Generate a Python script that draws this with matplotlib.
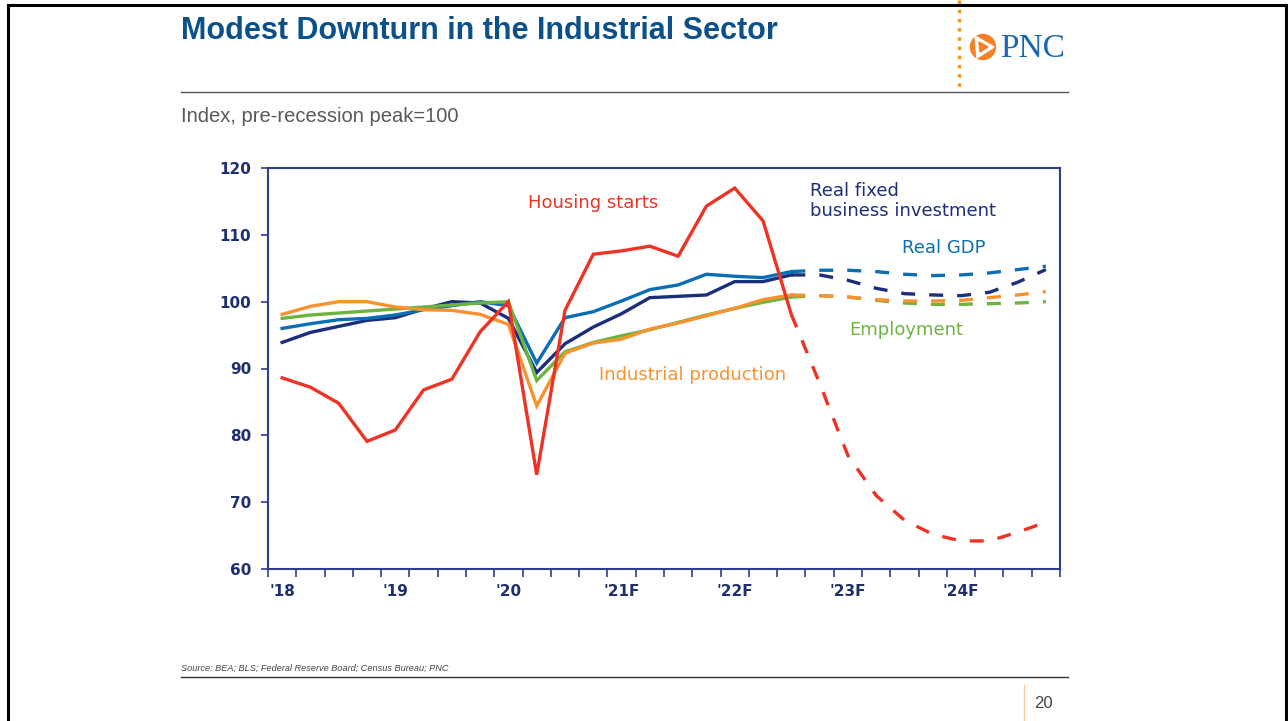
import numpy as np
import matplotlib
matplotlib.use('Agg')
import matplotlib.pyplot as plt
from matplotlib.lines import Line2D
from matplotlib.patches import Circle, Polygon

# Quarterly index values, pre-recession peak = 100 (2018Q1 .. 2024Q4)
years = ["'18", "'19", "'20", "'21F", "'22F", "'23F", "'24F"]
hist_end = 18  # last quarter drawn solid; forecasts are dashed from here on

housing = [88.6, 87.2, 84.8, 79.1, 80.8, 86.8, 88.4, 95.5, 100.0, 74.1,
           98.7, 107.1, 107.6, 108.3, 106.8, 114.3, 117.0, 112.1, 98.1,
           87.8, 77.0, 71.0, 67.3, 65.2, 64.2, 64.2, 65.5, 67.0]
gdp = [96.0, 96.7, 97.3, 97.5, 98.0, 98.8, 99.4, 100.0, 99.4, 90.8,
       97.6, 98.5, 100.1, 101.8, 102.5, 104.1, 103.8, 103.6, 104.5,
       104.7, 104.7, 104.5, 104.1, 103.9, 104.0, 104.3, 104.8, 105.3]
invest = [93.9, 95.4, 96.3, 97.2, 97.6, 98.9, 100.0, 99.8, 97.5, 89.4,
          93.7, 96.2, 98.2, 100.6, 100.8, 101.0, 103.0, 103.0, 104.0,
          104.0, 103.2, 102.0, 101.2, 101.0, 100.9, 101.4, 102.9, 104.8]
employment = [97.5, 98.0, 98.3, 98.6, 98.9, 99.2, 99.5, 99.8, 100.0, 88.2,
              92.5, 93.9, 94.9, 95.8, 96.9, 98.0, 99.0, 99.9, 100.7,
              100.9, 100.7, 100.2, 99.8, 99.6, 99.6, 99.7, 99.8, 100.0]
indprod = [98.1, 99.3, 100.0, 100.0, 99.2, 98.8, 98.7, 98.1, 96.6, 84.4,
           92.3, 93.8, 94.4, 95.9, 96.8, 97.9, 99.0, 100.3, 101.0,
           100.9, 100.7, 100.3, 100.1, 100.1, 100.2, 100.6, 101.0, 101.5]

RED = '#EE3224'
NAVY = '#1B2E7B'
BLUE = '#0A6EB4'
GREEN = '#6DB33F'
ORANGE = '#F7922F'
AXCOL = '#2E3E8C'
TICKCOL = '#1E2F6E'

W, H = 1288, 721
fig = plt.figure(figsize=(W / 100, H / 100), dpi=100)
fig.patch.set_facecolor('white')


def fx(x):
    return x / W


def fy(y):
    return 1 - y / H


ax = fig.add_axes([fx(268), fy(569), fx(1060) - fx(268), fy(168) - fy(569)])

n = len(housing)
x = np.arange(n)
series = [(invest, NAVY), (gdp, BLUE), (employment, GREEN),
          (indprod, ORANGE), (housing, RED)]
for vals, col in series:
    v = np.array(vals)
    ax.plot(x[:hist_end + 1], v[:hist_end + 1], color=col, lw=2.4,
            solid_joinstyle='miter', zorder=3)
    ax.plot(x[hist_end:], v[hist_end:], color=col, lw=2.4,
            dashes=(4.2, 4.2), zorder=3)

ax.set_xlim(-0.5, n - 0.5)
ax.set_ylim(60, 120)
ax.set_yticks(np.arange(60, 121, 10))
ax.set_xticks(np.arange(-0.5, n, 1))
ax.set_xticklabels([])
ax.set_xticks(np.arange(0, n, 4), minor=True)
ax.set_xticklabels(years, minor=True)
ax.tick_params(axis='x', which='major', direction='out', length=6,
               width=1.2, color=AXCOL)
ax.tick_params(axis='x', which='minor', length=0, pad=11)
ax.tick_params(axis='y', direction='out', length=5, width=1.2, color=AXCOL,
               pad=7)
for lab in ax.get_yticklabels() + ax.get_xticklabels(minor=True):
    lab.set_fontweight('bold')
    lab.set_fontsize(11)
    lab.set_color(TICKCOL)
for s in ax.spines.values():
    s.set_color(AXCOL)
    s.set_linewidth(1.5)

lab_kw = dict(fontsize=13, family='DejaVu Sans')
ax.text(11.0, 114.8, 'Housing starts', color=RED, ha='center', va='center',
        **lab_kw)
ax.text(18.65, 115.1, 'Real fixed\nbusiness investment', color=NAVY,
        ha='left', va='center', linespacing=1.15, **lab_kw)
ax.text(21.9, 108.0, 'Real GDP', color=BLUE, ha='left', va='center',
        **lab_kw)
ax.text(20.05, 95.8, 'Employment', color=GREEN, ha='left', va='center',
        **lab_kw)
ax.text(11.2, 89.0, 'Industrial production', color=ORANGE, ha='left',
        va='center', **lab_kw)

# slide furniture
sans = ['Liberation Sans', 'DejaVu Sans']
fig.text(fx(181), fy(31), 'Modest Downturn in the Industrial Sector',
         color='#0B5089', fontsize=22, fontweight='bold', family=sans,
         ha='left', va='center')
fig.text(fx(181), fy(117), 'Index, pre-recession peak=100', color='#595959',
         fontsize=14.5, family=sans, ha='left', va='center')
fig.text(fx(181), fy(668), 'Source: BEA; BLS; Federal Reserve Board; '
         'Census Bureau; PNC', color='#444444', fontsize=6.6, style='italic',
         family=sans, ha='left', va='center')
fig.text(fx(1043), fy(704), '20', color='#444444', fontsize=12,
         family=sans, ha='center', va='center')

lines = [
    ([181, 1068], [92, 92], '#555555', 1.0, '-'),
    ([181, 1068], [677, 677], '#333333', 1.0, '-'),
    ([8, 8], [5, 725], 'black', 2.2, '-'),
    ([8, 1286], [5, 5], 'black', 2.2, '-'),
    ([1286, 1286], [5, 725], 'black', 2.2, '-'),
    ([959, 959], [0, 90], '#F7941D', 2.5, ':'),
    ([1024, 1024], [685, 721], '#F9C8A0', 1.0, '-'),
]
for xs, ys, col, lw, ls in lines:
    fig.add_artist(Line2D([fx(v) for v in xs], [fy(v) for v in ys],
                          color=col, lw=lw, ls=ls,
                          transform=fig.transFigure))

# PNC logo, drawn in inches so the circle stays round
inch = fig.dpi_scale_trans


def pin(x, y):
    return (x / 100, (H - y) / 100)


fig.add_artist(Circle(pin(983, 47), 0.125, color='#F58025', transform=inch))
tri = [(975, 36), (994, 47), (977, 58)]
fig.add_artist(Polygon([pin(a, b) for a, b in tri], closed=True,
                       color='white', transform=inch))
tri2 = [(979, 42), (988, 47), (980, 52)]
fig.add_artist(Polygon([pin(a, b) for a, b in tri2], closed=True,
                       color='#F58025', transform=inch))
fig.text(fx(1000), fy(49), 'PNC', color='#1A67B1', fontsize=24,
         family='Liberation Serif', ha='left', va='center')

fig.savefig('out.png', dpi=100)
